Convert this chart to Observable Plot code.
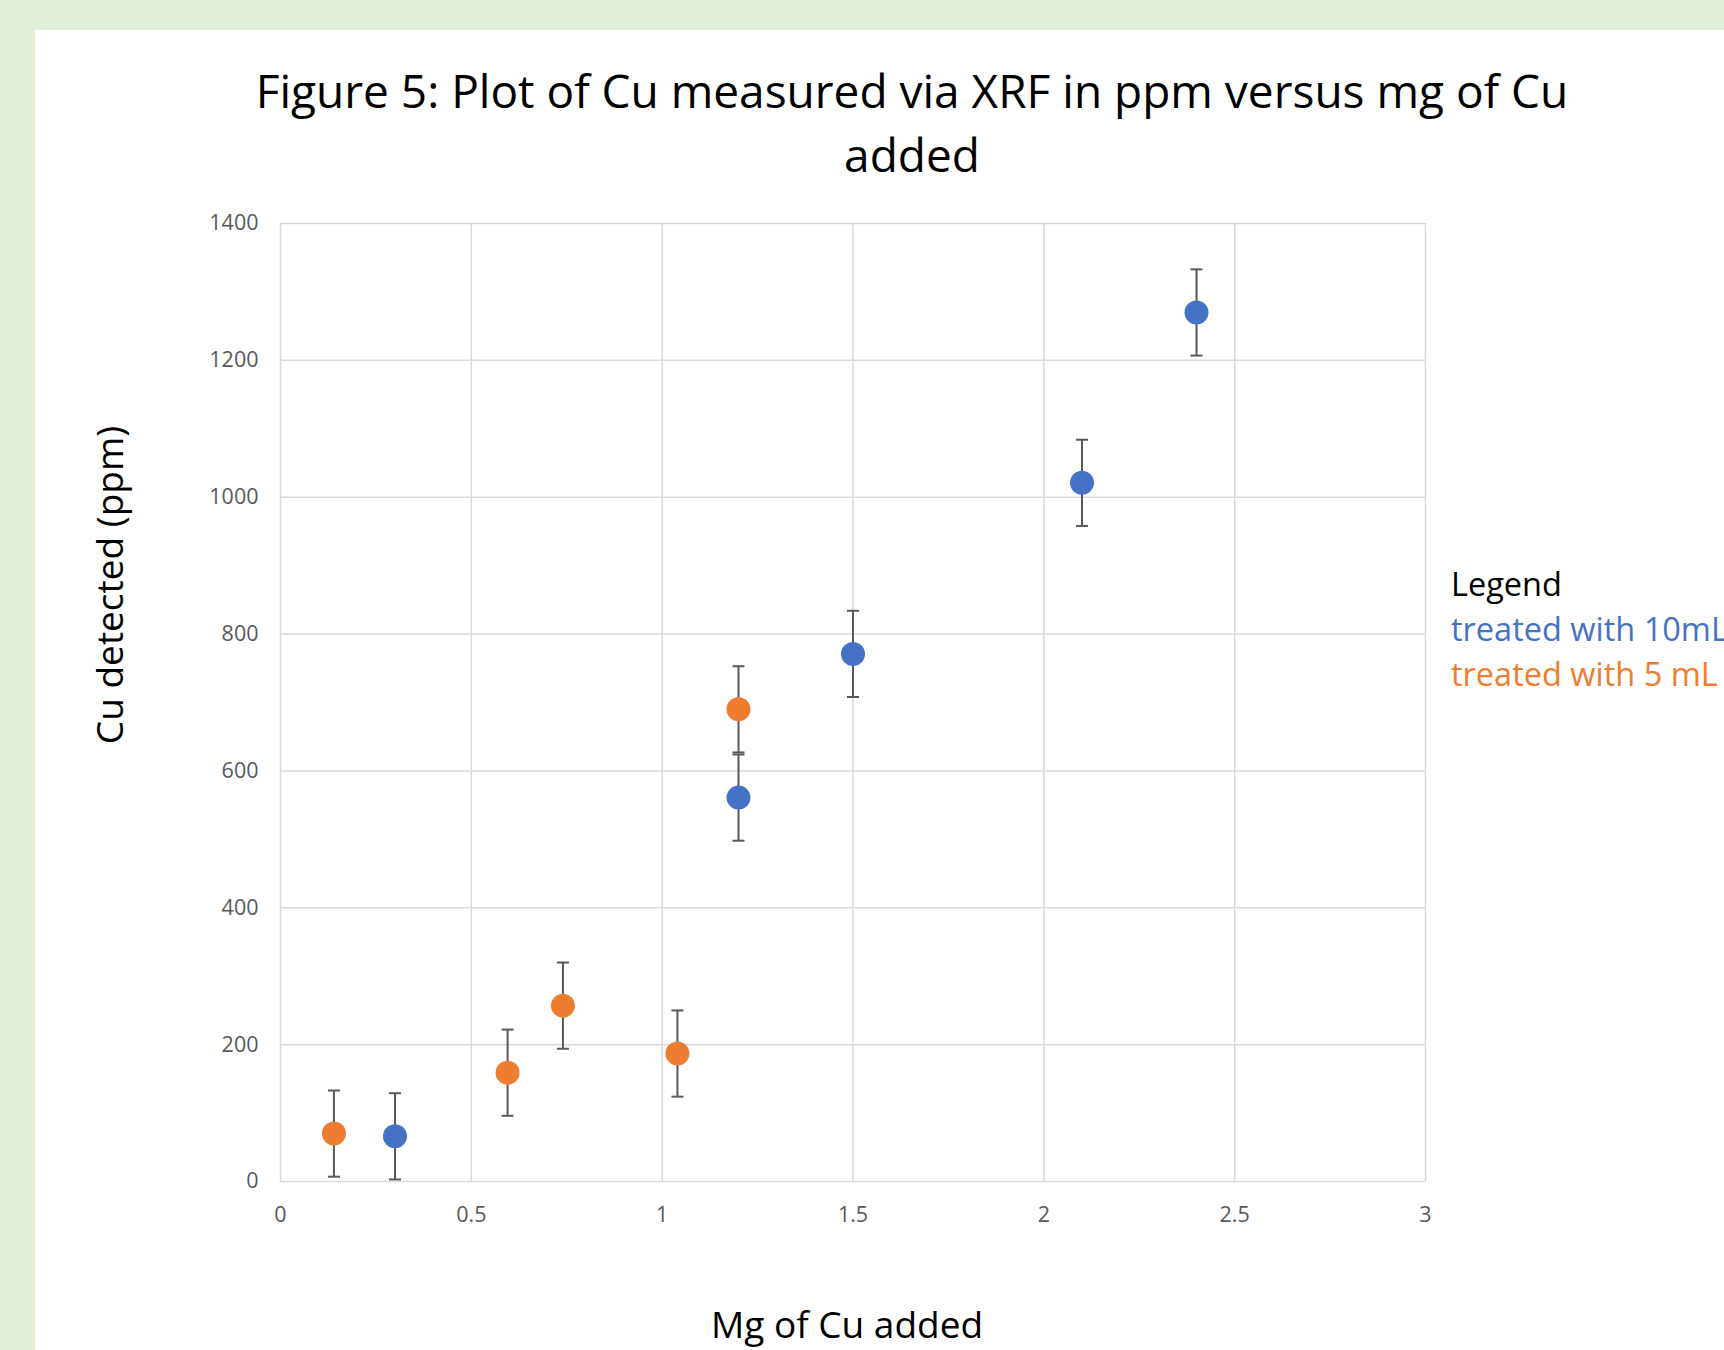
<!DOCTYPE html>
<html>
<head>
<meta charset="utf-8">
<script src="https://cdn.jsdelivr.net/npm/d3@7"></script>
<script src="https://cdn.jsdelivr.net/npm/@observablehq/plot@0.6"></script>
<style>
  html, body { margin: 0; padding: 0; }
  body { width: 1724px; height: 1350px; background: #E2EFDA; position: relative; overflow: hidden; font-family: "Open Sans", sans-serif; }
  #panel { position: absolute; left: 35px; top: 30px; right: 0; bottom: 0; background: #fff; }
  #title { position: absolute; left: 212px; width: 1400px; top: 58px; text-align: center; font-size: 46px; line-height: 64px; color: #000; }
  #ylab { position: absolute; left: 108px; top: 585px; transform: translate(-50%, -50%) rotate(-90deg); white-space: nowrap; font-size: 37px; color: #000; }
  #xlab { position: absolute; left: 847px; top: 1323px; transform: translate(-50%, -50%); white-space: nowrap; font-size: 37px; color: #000; }
  #legend { position: absolute; left: 1451px; top: 561px; font-size: 32.5px; line-height: 45px; white-space: nowrap; }
  #chart { position: absolute; left: 35px; top: 30px; }
</style>
</head>
<body>
<div id="panel"></div>
<div id="chart"></div>
<div id="title">Figure 5: Plot of Cu measured via XRF in ppm versus mg of Cu<br>added</div>
<div id="ylab">Cu detected (ppm)</div>
<div id="xlab">Mg of Cu added</div>
<div id="legend"></div>
<script>
// Series: treated with 10 mL
const series10Name = "treated with 10mL";
const x10 = [0.3, 1.2, 1.5, 2.1, 2.4];
const y10 = [66, 561, 771, 1021, 1270];
const err10 = [63, 63, 63, 63, 63];

// Series: treated with 5 mL
const series5Name = "treated with 5 mL";
const x5 = [0.14, 0.595, 0.74, 1.04, 1.2];
const y5 = [70, 159, 257, 187, 690];
const err5 = [63, 63, 63, 63, 63];

const xTicks = [0, 0.5, 1, 1.5, 2, 2.5, 3];
const yTicks = [0, 200, 400, 600, 800, 1000, 1200, 1400];
const legendTitle = "Legend";

const colors = { [series10Name]: "#4472C4", [series5Name]: "#ED7D31" };

const data = [
  ...x10.map((x, i) => ({ series: series10Name, x, y: y10[i], err: err10[i] })),
  ...x5.map((x, i) => ({ series: series5Name, x, y: y5[i], err: err5[i] }))
];

const capSymbol = {
  draw(context, size) {
    context.moveTo(-6, 0);
    context.lineTo(6, 0);
  }
};

const chart = Plot.plot({
  width: 1689,
  height: 1320,
  marginLeft: 245,
  marginRight: 299,
  marginTop: 193,
  marginBottom: 169,
  style: { fontFamily: "Open Sans", fontSize: "21.5px", color: "#595959", background: "transparent", overflow: "visible" },
  x: { domain: [0, 3] },
  y: { domain: [0, 1400] },
  marks: [
    Plot.gridX(xTicks, { stroke: "#d9d9d9", strokeOpacity: 1, strokeWidth: 1.5 }),
    Plot.gridY(yTicks, { stroke: "#d9d9d9", strokeOpacity: 1, strokeWidth: 1.5 }),
    Plot.axisX(xTicks, { tickSize: 0, tickPadding: 25, label: null, tickFormat: d => String(d) }),
    Plot.axisY(yTicks, { tickSize: 0, tickPadding: 22, label: null, tickFormat: d => String(d) }),
    Plot.ruleX(data, { x: "x", y1: d => d.y - d.err, y2: d => d.y + d.err, stroke: "#595959", strokeWidth: 2 }),
    Plot.dot(data, { x: "x", y: d => d.y + d.err, symbol: capSymbol, stroke: "#595959", strokeWidth: 2, fill: "none", r: 6 }),
    Plot.dot(data, { x: "x", y: d => d.y - d.err, symbol: capSymbol, stroke: "#595959", strokeWidth: 2, fill: "none", r: 6 }),
    Plot.dot(data, { x: "x", y: "y", r: 12, fill: d => colors[d.series], stroke: "none" })
  ]
});
chart.style.maxWidth = "none";
document.getElementById("chart").appendChild(chart);

const legend = document.getElementById("legend");
const lt = document.createElement("div");
lt.textContent = legendTitle;
lt.style.color = "#000";
legend.appendChild(lt);
[series10Name, series5Name].forEach(name => {
  const d = document.createElement("div");
  d.textContent = name;
  d.style.color = colors[name];
  legend.appendChild(d);
});
</script>
</body>
</html>
